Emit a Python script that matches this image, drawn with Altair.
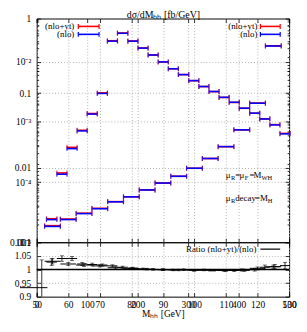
import altair as alt
import pandas as pd

# ---------------- data ----------------
# low-mass series (narrow bins) : x axis 50-130, y axis 0.001-1
a_edges = [53.1, 56.4, 59.6, 62.8, 66.0, 69.2, 72.4, 75.6, 78.9, 82.1, 85.3,
           88.5, 91.7, 94.9, 98.2, 101.4, 104.6, 107.8, 111.0, 114.2, 117.5,
           120.7, 123.9, 127.1, 130.3]
a_nlo = [0.00201, 0.00817, 0.0180, 0.0311, 0.0523, 0.0990, 0.497, 0.634,
         0.497, 0.401, 0.324, 0.262, 0.212, 0.177, 0.147, 0.1225, 0.105,
         0.0877, 0.0753, 0.0627, 0.0538, 0.0449, 0.0374, 0.0284]
a_ratio = [1.027, 1.040, 1.040, 1.020, 1.018, 1.016, 1.013, 1.008, 1.005,
           1.002, 1.000, 0.999, 0.998, 0.999, 0.997, 0.998, 0.997, 0.996,
           0.996, 0.997, 0.999, 1.008, 1.010, 1.014]
a_rerr = [0.012, 0.010, 0.007, 0.006, 0.005, 0.004, 0.004, 0.004, 0.003,
          0.003, 0.003, 0.003, 0.003, 0.003, 0.003, 0.003, 0.003, 0.003,
          0.004, 0.004, 0.005, 0.008, 0.008, 0.012]

# high-mass series (wide bins) : x axis 0-500, y axis 1e-5 - 0.05
b_edges = [15.6, 46.9, 78.1, 109.4, 140.6, 171.9, 203.1, 234.4, 265.6,
           296.9, 328.1, 359.4, 390.6, 421.9, 453.1, 484.4]
b_nlo = [1.83e-5, 2.38e-5, 2.99e-5, 3.61e-5, 4.70e-5, 5.68e-5, 7.40e-5,
         9.64e-5, 1.25e-4, 1.70e-4, 2.47e-4, 3.89e-4, 7.39e-4, 2.05e-3, 1.83e-2]
b_ratio = [1.030, 1.020, 1.016, 1.013, 1.006, 1.003, 1.001, 0.999, 0.998,
           0.997, 0.997, 0.996, 0.998, 1.004, 1.010]
b_rerr = [0.010, 0.006, 0.005, 0.004, 0.004, 0.003, 0.003, 0.003, 0.003,
          0.003, 0.003, 0.003, 0.004, 0.005, 0.006]

# one extra ratio point (below the main panel's range)
e_lo, e_hi, e_c, e_ratio, e_elo, e_ehi = 44.7, 53.4, 51.6, 0.933, 0.9, 1.035

a_xticks = [50, 60, 70, 80, 90, 100, 110, 120, 130]
b_xticks = [0, 100, 200, 300, 400, 500]
r_yticks = [0.9, 0.95, 1.0, 1.05, 1.1]
a_ylog = [m * 10.0 ** e for e in (-3, -2, -1) for m in range(1, 10)] + [1.0]
b_ylog = [m * 10.0 ** e for e in (-5, -4, -3) for m in range(1, 10)] + [0.01, 0.02, 0.03, 0.04, 0.05]
b_sup = {-2: "10⁻²", -3: "10⁻³", -4: "10⁻⁴", -5: "10⁻⁵"}
title_text = "dσ/dMₕₕ [fb/GeV]"

# ---------------- layout constants ----------------
SERIF = "Liberation Serif"
RED, BLUE = "#ff0000", "#0000ff"
L, T = 37, 16            # page position of plot's left / top edge
W, HT, HR = 255, 242 - T, 55
GRID = dict(grid=True, gridColor="#a0a0a0", gridDash=[1, 2], gridWidth=0.8)
DEC = "abs(log(datum.value)/LN10 - round(log(datum.value)/LN10)) < 0.001"
LOGTICK = {"condition": {"test": DEC, "value": 4}, "value": 2}

xA = alt.Scale(domain=[50, 130], zero=False, nice=False)
xB = alt.Scale(domain=[0, 500], zero=False, nice=False)
yA = alt.Scale(type="log", domain=[0.001, 1], nice=False)
yB = alt.Scale(type="log", domain=[1e-5, 0.0525], nice=False)
yR = alt.Scale(domain=[0.9, 1.1], zero=False, nice=False)

ONE = pd.DataFrame({"a": [0]})


def tick_axis(orient, offset, values, size):
    return alt.Axis(orient=orient, offset=offset, values=values, labels=False,
                    domain=False, grid=False, ticks=True, tickSize=size,
                    tickColor="black", tickWidth=0.8, title=None)


def ticks_layer(xs, ys, px, py, xax, yax):
    return alt.Chart(pd.DataFrame({"x": [px], "y": [py]})).mark_point(opacity=0).encode(
        x=alt.X("x:Q", scale=xs, axis=xax), y=alt.Y("y:Q", scale=ys, axis=yax))


def bars(edges, nlo, ratio, xs, ys, xax, yax):
    n = len(nlo)
    red = [v * r for v, r in zip(nlo, ratio)]
    df = pd.DataFrame({"lo": edges[:-1] * 2, "hi": edges[1:] * 2,
                       "val": red + nlo, "s": ["nlo+yt"] * n + ["nlo"] * n})
    col = alt.Color("s:N", scale=alt.Scale(domain=["nlo+yt", "nlo"], range=[RED, BLUE]), legend=None)
    Y = alt.Y("val:Q", scale=ys, axis=yax)
    base = alt.Chart(df)
    rule = base.mark_rule(strokeWidth=1.6).encode(x=alt.X("lo:Q", scale=xs, axis=xax), x2="hi:Q", y=Y, color=col)
    c1 = base.mark_tick(orient="vertical", size=5, thickness=1.2).encode(
        x=alt.X("lo:Q", scale=xs, axis=xax), y=Y, color=col)
    c2 = base.mark_tick(orient="vertical", size=5, thickness=1.2).encode(
        x=alt.X("hi:Q", scale=xs, axis=xax), y=Y, color=col)
    return alt.layer(rule, c1, c2)


def ratio_marks(lo, hi, c, r, rlo, rhi, xs, xax, yax, extra=()):
    df = pd.DataFrame({"lo": lo, "hi": hi, "c": c, "r": r, "rlo": rlo, "rhi": rhi})
    base = alt.Chart(df)
    Y = lambda f: alt.Y(f + ":Q", scale=yR, axis=yax)
    X = lambda f: alt.X(f + ":Q", scale=xs, axis=xax)
    h = base.mark_rule(color="black", strokeWidth=1).encode(x=X("lo"), x2="hi:Q", y=Y("r"))
    v = base.mark_rule(color="black", strokeWidth=0.8).encode(x=X("c"), y=Y("rlo"), y2="rhi:Q")
    t1 = base.mark_tick(orient="horizontal", size=4, thickness=0.8, color="black").encode(x=X("c"), y=Y("rlo"))
    t2 = base.mark_tick(orient="horizontal", size=4, thickness=0.8, color="black").encode(x=X("c"), y=Y("rhi"))
    return alt.layer(h, v, t1, t2, *extra)


def txt(s, x, y, size=9, align="left", baseline="alphabetic"):
    return alt.Chart(ONE).mark_text(text=s, font=SERIF, fontSize=size, align=align,
                                    baseline=baseline, color="black").encode(
        x=alt.value(x - L), y=alt.value(y))


def seg(x1, x2, y, color, width=1.6, caps=True):
    out = [alt.Chart(ONE).mark_rule(color=color, strokeWidth=width).encode(
        x=alt.value(x1 - L), x2=alt.value(x2 - L), y=alt.value(y))]
    if caps:
        for xx in (x1, x2):
            out.append(alt.Chart(ONE).mark_rule(color=color, strokeWidth=1.2).encode(
                x=alt.value(xx - L), y=alt.value(y - 2.5), y2=alt.value(y + 2.5)))
    return out


# ---------------- top panel ----------------
a_lab_y = alt.Axis(orient="left", values=a_ylog, labelExpr=f"({DEC}) ? format(datum.value, '~g') : ''",
                   tickSize=0, domain=False, labelPadding=6, labelOverlap=False, title=None,
                   gridOpacity={"condition": {"test": DEC, "value": 1}, "value": 0}, **GRID)
b_expr = " : ".join(f"round(log(datum.value)/LN10) == {k} ? '{v}'" for k, v in b_sup.items()) + " : ''"
b_lab_y = alt.Axis(orient="left", values=b_ylog, labelExpr=f"({DEC}) ? ({b_expr}) : ''",
                   tickSize=0, domain=False, labelPadding=6, labelOverlap=False, title=None,
                   gridOpacity={"condition": {"test": DEC, "value": 1}, "value": 0}, **GRID)
a_top_x = alt.Axis(orient="top", offset=-HT, values=a_xticks, labels=False, domain=False,
                   tickSize=4, tickColor="black", tickWidth=0.8, title=None, **GRID)
b_top_x = alt.Axis(orient="top", offset=-HT, values=b_xticks, labels=False, domain=False,
                   tickSize=4, tickColor="black", tickWidth=0.8, title=None, **GRID)

topA = bars(a_edges, a_nlo, a_ratio, xA, yA, a_top_x, a_lab_y)
topB = bars(b_edges, b_nlo, b_ratio, xB, yB, b_top_x, b_lab_y)

top_ticks = [
    ticks_layer(xA, yA, 90, 0.1, tick_axis("bottom", -HT, a_xticks, 4), tick_axis("right", -W, a_ylog, LOGTICK)),
    ticks_layer(xA, yA, 90, 0.1, None, tick_axis("left", -W, a_ylog, LOGTICK)),
    ticks_layer(xB, yB, 250, 1e-3, tick_axis("bottom", -HT, b_xticks, 4), tick_axis("right", -W, b_ylog, LOGTICK)),
    ticks_layer(xB, yB, 250, 1e-3, None, tick_axis("left", -W, b_ylog, LOGTICK)),
]

deco = [txt(title_text, 165, -4, size=10, align="center", baseline="middle")]
# legends
deco += [txt("(nlo+yt)", 75, 27 - T, align="right"), txt("(nlo)", 75, 35 - T, align="right")]
deco += seg(79, 100, 24 - T, RED) + seg(79, 100, 32 - T, BLUE)
deco += [txt("(nlo+yt)", 260, 27 - T, align="right"), txt("(nlo)", 260, 35 - T, align="right")]
deco += seg(263, 283, 24 - T, RED) + seg(263, 283, 32 - T, BLUE)
# scale annotations (sub = subscript)
for s, x, y, sub in [("μ", 228, 177, False), ("R", 233.3, 177, True), ("=", 237.5, 177, False),
                     ("μ", 242, 177, False), ("F", 247.3, 177, True), ("=", 252, 177, False),
                     ("M", 256, 177, False), ("WH", 264, 177, True),
                     ("μ", 228, 200, False), ("R", 233.3, 200, True), ("decay", 237.5, 200, False),
                     ("=", 257.5, 200, False), ("M", 262.5, 200, False), ("H", 270.5, 200, True)]:
    deco.append(txt(s, x, (y + 2.5 if sub else y) - T, size=6.5 if sub else 9))

top = alt.layer(topA, topB, *top_ticks, *deco).resolve_scale(
    x="independent", y="independent", color="shared").properties(width=W, height=HT)

# ---------------- ratio panel ----------------
r_lab_y = alt.Axis(orient="left", values=r_yticks, format="~g", tickSize=0, domain=False,
                   labelPadding=6, labelOverlap=False, title=None,
                   gridOpacity={"condition": {"test": "datum.value == 0.95 || datum.value == 1.05", "value": 1},
                                "value": 0}, **GRID)
a_bot_x = alt.Axis(orient="bottom", values=a_xticks, format="d", tickSize=0, domain=False,
                   labelPadding=3, labelFlush=False, labelOverlap=False, title=None, **GRID)
b_bot_x = alt.Axis(orient="bottom", values=b_xticks, format="d", tickSize=0, domain=False,
                   labelPadding=3, labelFlush=False, labelOverlap=False,
                   title="Mₕₕ [GeV]", titlePadding=0, **GRID)

a_c = [(lo + hi) / 2 for lo, hi in zip(a_edges[:-1], a_edges[1:])]
b_c = [(lo + hi) / 2 for lo, hi in zip(b_edges[:-1], b_edges[1:])]

one_line = alt.Chart(pd.DataFrame({"y": [1.0]})).mark_rule(color="black", strokeWidth=1.5).encode(
    y=alt.Y("y:Q", scale=yR, axis=r_lab_y))
extra_df = pd.DataFrame({"lo": [e_lo], "hi": [e_hi], "c": [e_c], "r": [e_ratio], "rlo": [e_elo], "rhi": [e_ehi]})
extra_h = alt.Chart(extra_df).mark_rule(color="black", strokeWidth=1).encode(
    x=alt.X("lo:Q", scale=xA, axis=a_bot_x), x2="hi:Q", y=alt.Y("r:Q", scale=yR, axis=r_lab_y))
extra_v = alt.Chart(extra_df).mark_rule(color="black", strokeWidth=0.8).encode(
    x=alt.X("c:Q", scale=xA, axis=a_bot_x), y=alt.Y("rlo:Q", scale=yR, axis=r_lab_y), y2="rhi:Q")
extra_t = alt.Chart(extra_df).mark_tick(orient="horizontal", size=4, thickness=0.8, color="black").encode(
    x=alt.X("c:Q", scale=xA, axis=a_bot_x), y=alt.Y("rhi:Q", scale=yR, axis=r_lab_y))

ratA = ratio_marks(a_edges[:-1], a_edges[1:], a_c, a_ratio,
                   [r - e for r, e in zip(a_ratio, a_rerr)], [r + e for r, e in zip(a_ratio, a_rerr)],
                   xA, a_bot_x, r_lab_y, extra=(one_line, extra_h, extra_v, extra_t))
ratB = ratio_marks(b_edges[:-1], b_edges[1:], b_c, b_ratio,
                   [r - e for r, e in zip(b_ratio, b_rerr)], [r + e for r, e in zip(b_ratio, b_rerr)],
                   xB, b_bot_x, None)

rat_ticks = [
    ticks_layer(xA, yR, 90, 1.0, tick_axis("top", -HR, a_xticks, 4), tick_axis("right", -W, r_yticks, 4)),
    ticks_layer(xA, yR, 90, 1.0, tick_axis("bottom", -HR, a_xticks, 4), tick_axis("left", -W, r_yticks, 4)),
    ticks_layer(xB, yR, 250, 1.0, tick_axis("top", -HR, b_xticks, 4), None),
    ticks_layer(xB, yR, 250, 1.0, tick_axis("bottom", -HR, b_xticks, 4), None),
]
rdeco = [txt("Ratio (nlo+yt)/(nlo)", 259, 252 - 242, align="right")]
rdeco += seg(263, 283, 249 - 242, "black", width=1.2, caps=False)

ratio = alt.layer(ratA, ratB, *rat_ticks, *rdeco).resolve_scale(
    x="independent", y="independent").properties(width=W, height=HR)

chart = alt.vconcat(top, ratio, spacing=0, bounds="flush").properties(
    padding={"left": 1, "top": -1, "right": 2, "bottom": 2}
).configure_view(stroke="black", strokeWidth=1).configure_axis(
    labelFont=SERIF, labelFontSize=9.5, labelColor="black",
    titleFont=SERIF, titleFontSize=9.5, titleFontWeight="normal", titleColor="black")

chart.save("out.html", embed_options={"renderer": "svg", "actions": False})
